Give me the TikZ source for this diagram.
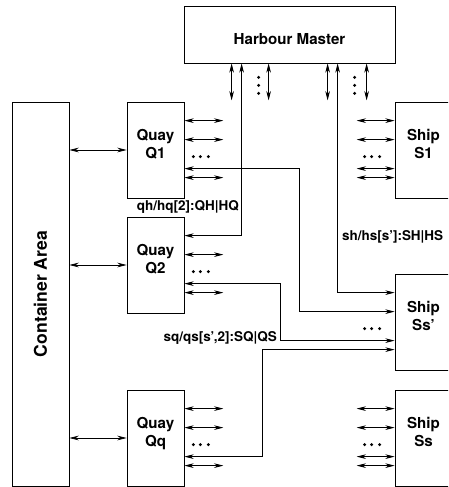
\documentclass[tikz,border=0pt]{standalone}
\usepackage{fontspec}
\usepackage{graphicx}
\setmainfont{TeX Gyre Heros}
\usetikzlibrary{calc,arrows.meta}

% two-line box text, set a little above the middle
\newcommand{\twoline}[2]{#1\\#2\\[-5pt]\mbox{}}

\begin{document}
\begin{tikzpicture}[
  x=0.03cm, y=-0.03cm,
  unit/.style={
    draw, line width=0.65pt, rectangle,
    minimum width=1.71cm, minimum height=2.88cm,
    font=\fontsize{12.9}{15.3}\selectfont\bfseries, align=center, inner sep=0pt
  },
  arr/.style={{Stealth[length=8pt,width=4pt]}-{Stealth[length=8pt,width=4pt]}, line width=0.65pt},
  lbl/.style={font=\fontsize{11.5}{13}\selectfont\bfseries, inner sep=0pt},
]

\clip (0,0) rectangle (448,487);

\node[unit, minimum width=6.33cm, minimum height=1.71cm,
      text height=17.8pt, text depth=0pt] (hm) at (289.5,34.5)
  {Harbour Master};
\node[unit, minimum height=11.52cm] (ca) at (40.5,294)
  {\rotatebox{90}{\fontsize{15}{17}\selectfont Container Area}};

\node[unit] (q1)  at (155.5,150) {\twoline{Quay}{Q1}};
\node[unit] (q2)  at (155.5,265) {\twoline{Quay}{Q2}};
\node[unit] (qq)  at (155.5,438) {\twoline{Quay}{Qq}};
\node[unit] (s1)  at (423.5,150) {\twoline{Ship}{S1}};
\node[unit] (ssp) at (423.5,322) {\twoline{Ship}{Ss'}};
\node[unit] (ss)  at (423.5,438) {\twoline{Ship}{Ss}};

% container area to quays
\foreach \q in {q1,q2,qq}
  \draw[arr] (ca.east |- \q.west) -- (\q.west);

% local channels
\foreach \q/\offs in {q1/{19,38,76}, q2/{38,76}, qq/{19,38,76}}
  \foreach \o in \offs
    \draw[arr] ($(\q.north east)+(0,\o)$) -- ++(39,0);
\foreach \s in {s1,ss}
  \foreach \o in {19,38,67,76}
    \draw[arr] ($(\s.north west)+(0,\o)$) -- ++(-38,0);
\foreach \dx in {48,85,144,183}
  \draw[arr] ($(hm.south west)+(\dx,0)$) -- ++(0,37);

% dots
\foreach \b in {q1,q2,qq}
  \foreach \dx in {9,16,24}
    \fill ($(\b.north east)+(\dx,55)$) circle (1.4pt);
\foreach \b in {s1,ssp,ss}
  \foreach \dx in {-30,-23,-15}
    \fill ($(\b.north west)+(\dx,55)$) circle (1.4pt);
\foreach \dx in {75,171}
  \foreach \dy in {14,22,30}
    \fill ($(hm.south west)+(\dx,\dy)$) circle (1.4pt);

% connections to ship Ss'
\draw[arr] ($(hm.south west)+(58,0)$) |- ($(q2.north east)+(0,19)$);
\draw[arr] ($(hm.south west)+(154,0)$) |- ($(ssp.north west)+(0,19)$);
\draw[arr] ($(q1.north east)+(0,67)$) -- ++(115,0) |- ($(ssp.north west)+(0,38)$);
\draw[arr] ($(q2.north east)+(0,67)$) -- ++(96,0) |- ($(ssp.north west)+(0,67)$);
\draw[arr] ($(qq.north east)+(0,67)$) -- ++(78,0) |- ($(ssp.north west)+(0,76)$);

\node[lbl, anchor=east] (lqh) at (239,207) {qh/hq[2]:QH|HQ};
\node[lbl, anchor=west] (lsh) at (342,237) {sh/hs[s']:SH|HS};
\node[lbl, anchor=east] (lsq) at (277,338) {sq/qs[s',2]:SQ|QS};

\end{tikzpicture}
\end{document}
